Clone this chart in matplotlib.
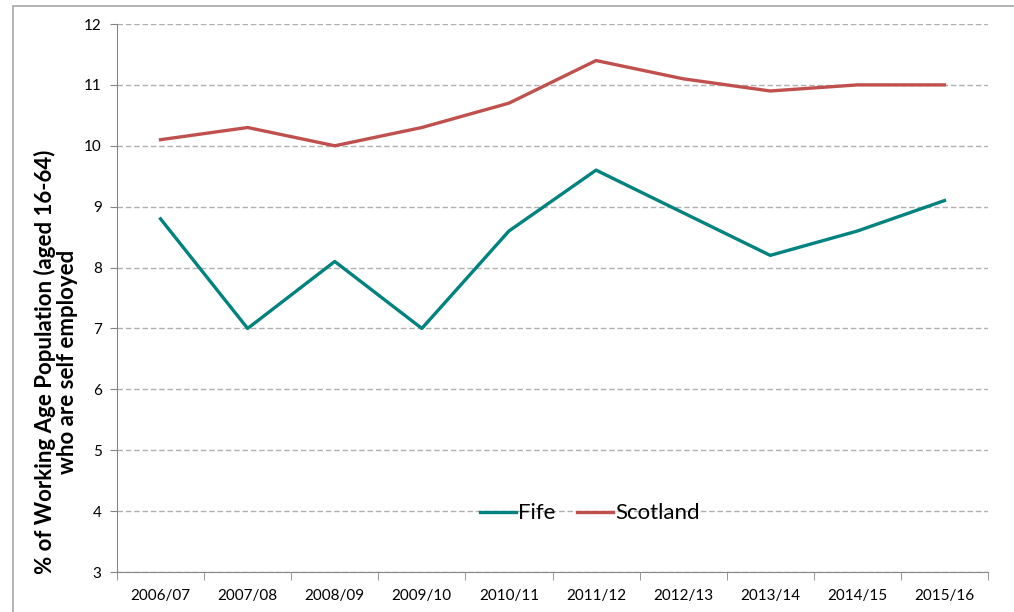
import matplotlib.pyplot as plt
from matplotlib.patches import Rectangle

years = ['2006/07', '2007/08', '2008/09', '2009/10', '2010/11',
         '2011/12', '2012/13', '2013/14', '2014/15', '2015/16']
fife = [8.8, 7.0, 8.1, 7.0, 8.6, 9.6, 8.9, 8.2, 8.6, 9.1]
scotland = [10.1, 10.3, 10.0, 10.3, 10.7, 11.4, 11.1, 10.9, 11.0, 11.0]

plt.rcParams['font.family'] = ['Lato', 'DejaVu Sans']

fig = plt.figure(figsize=(10.14, 6.12), dpi=100)
ax = fig.add_axes([117 / 1014, 1 - 572 / 612, 871 / 1014, 548 / 612])

# thin grey frame round the chart area
fig.patches.append(Rectangle((13 / 1014, -0.1), 1.2, 1 - 6 / 612 + 0.1,
                             transform=fig.transFigure, fill=False,
                             edgecolor='#A6A6A6', linewidth=1.2))

x = range(len(years))
ax.plot(x, fife, color='#00827F', linewidth=2.4, label='Fife')
ax.plot(x, scotland, color='#C0504D', linewidth=2.4, label='Scotland')

ax.set_xlim(-0.5, len(years) - 0.5)
ax.set_ylim(3, 12)
ax.set_yticks(range(3, 13))
ax.set_xticks(list(x))
ax.set_xticklabels(years)
ax.set_xticks([i - 0.5 for i in range(len(years) + 1)], minor=True)
ax.tick_params(axis='x', which='major', length=0, labelsize=11, pad=12)
ax.tick_params(axis='x', which='minor', length=6, color='#868686', direction='out')
ax.tick_params(axis='y', length=5, color='#868686', labelsize=11, pad=6)

ax.grid(axis='y', linestyle=(0, (4, 2)), color='#B0B0B0', linewidth=1)
ax.set_axisbelow(True)
for s in ['top', 'right']:
    ax.spines[s].set_visible(False)
for s in ['left', 'bottom']:
    ax.spines[s].set_color('#868686')

fig.text(56 / 1014, 1 - 362 / 612,
         '% of Working Age Population (aged 16-64)\nwho are self employed',
         rotation=90, ha='center', va='center', fontsize=16,
         fontweight='bold', linespacing=1.05)

ax.legend(loc='center', bbox_to_anchor=(0.543, 0.107), ncol=2, frameon=False,
          fontsize=16, handlelength=1.6, handletextpad=0.1, columnspacing=1.0)

plt.savefig('out.png', dpi=100)
